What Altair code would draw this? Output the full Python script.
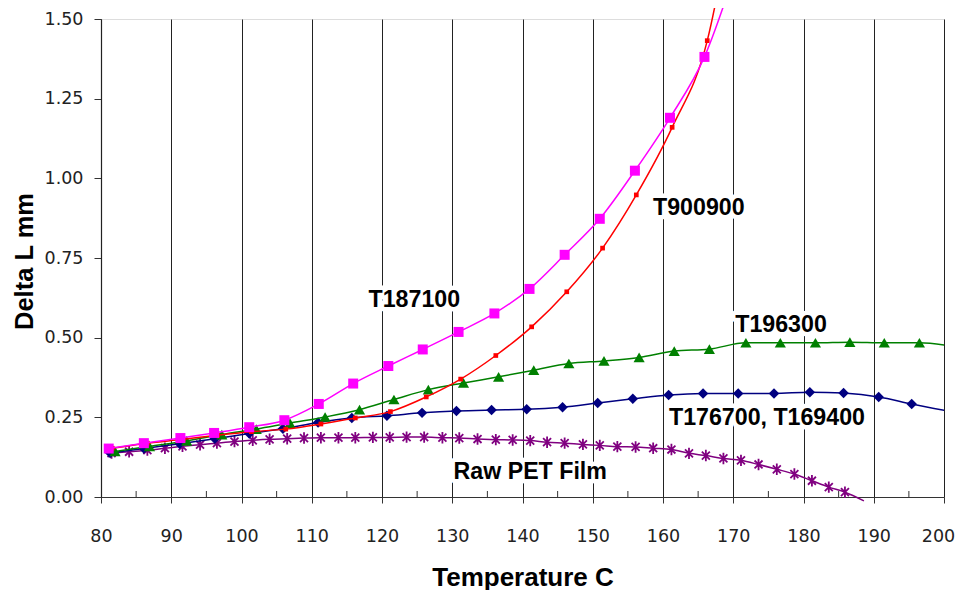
import altair as alt
import pandas as pd

# ---- data ----
mag_t = [81.1, 86.1, 91.3, 96.1, 101.1, 106.1, 111.0, 115.9, 120.9, 125.8, 130.9, 136.0, 141.0, 146.0, 151.0, 156.0, 161.0, 165.9, 171.0]
mag_y = [0.152, 0.169, 0.185, 0.201, 0.219, 0.241, 0.292, 0.356, 0.411, 0.463, 0.518, 0.576, 0.653, 0.760, 0.873, 1.024, 1.190, 1.381, 1.700]

red_t = [81.6, 86.6, 91.7, 96.6, 101.4, 106.3, 111.3, 116.2, 121.2, 126.3, 131.2, 136.2, 141.3, 146.3, 151.4, 156.2, 161.3, 166.3, 171.3]
red_y = [0.153, 0.169, 0.181, 0.194, 0.205, 0.213, 0.229, 0.248, 0.268, 0.314, 0.370, 0.444, 0.534, 0.644, 0.781, 0.948, 1.160, 1.432, 2.050]

grn_t = [82.0, 86.9, 92.2, 97.2, 102.1, 106.9, 111.9, 116.8, 121.7, 126.6, 131.6, 136.6, 141.6, 146.6, 151.6, 156.6, 161.6, 166.6, 171.8, 176.7, 181.7, 186.6, 191.5, 196.5, 201.5]
grn_y = [0.143, 0.159, 0.176, 0.196, 0.213, 0.232, 0.251, 0.274, 0.306, 0.337, 0.358, 0.377, 0.398, 0.419, 0.427, 0.438, 0.458, 0.464, 0.484, 0.484, 0.484, 0.486, 0.484, 0.484, 0.472]

blu_t = [81.3, 86.1, 91.2, 96.2, 101.1, 105.9, 110.9, 115.7, 120.7, 125.7, 130.6, 135.6, 140.6, 145.7, 150.7, 155.7, 160.8, 165.7, 170.7, 175.8, 180.9, 185.7, 190.7, 195.4, 201.0]
blu_y = [0.138, 0.152, 0.167, 0.183, 0.199, 0.214, 0.234, 0.248, 0.255, 0.264, 0.270, 0.273, 0.275, 0.282, 0.295, 0.308, 0.320, 0.325, 0.325, 0.325, 0.329, 0.326, 0.314, 0.292, 0.268]

pet_t = [81.5, 84.0, 86.6, 89.1, 91.6, 94.1, 96.5, 99.0, 101.6, 104.0, 106.5, 108.9, 111.3, 113.8, 116.2, 118.7, 121.1,
         123.5, 126.0, 128.6, 131.0, 133.6, 136.2, 138.6, 141.1, 143.5, 146.0, 148.6, 151.0, 153.5, 156.1, 158.6, 161.2,
         163.7, 166.1, 168.6, 171.1, 173.6, 176.2, 178.7, 181.2, 183.6, 185.9, 188.6]
pet_y = [0.138, 0.142, 0.147, 0.153, 0.159, 0.164, 0.169, 0.174, 0.178, 0.181, 0.183, 0.185, 0.186, 0.186, 0.186, 0.187, 0.187,
         0.188, 0.188, 0.186, 0.185, 0.182, 0.180, 0.179, 0.177, 0.172, 0.169, 0.165, 0.162, 0.158, 0.157, 0.153, 0.149,
         0.137, 0.130, 0.121, 0.115, 0.102, 0.087, 0.072, 0.051, 0.031, 0.015, -0.012]

x_ticks = [80, 90, 100, 110, 120, 130, 140, 150, 160, 170, 180, 190, 200]
x_minor = [85, 95, 105, 115, 125, 135, 145, 155, 165, 175, 185, 195]
y_ticks = [0.0, 0.25, 0.5, 0.75, 1.0, 1.25, 1.5]

lab_text = ["T187100", "T900900", "T196300", "T176700, T169400", "Raw PET Film"]
lab_t = [124.6, 165.1, 176.8, 174.8, 141.1]
lab_y = [0.618, 0.907, 0.539, 0.248, 0.080]

W, H = 843, 478

xs = alt.Scale(domain=[80, 200], nice=False, zero=False)
ys = alt.Scale(domain=[0, 1.5], nice=False)

X = alt.X("t:Q", scale=xs, axis=alt.Axis(
    values=x_ticks, grid=True, gridColor="#222", gridWidth=1, gridOpacity=1,
    tickSize=6, tickColor="#333", domainColor="#333", domainWidth=1.2,
    labelFont="DejaVu Sans", labelFontSize=17.5, labelColor="#222", labelPadding=24,
    labelFlush=False, labelOverlap=False, labelBound=False,
    labelOffset={"condition": {"test": "datum.value == 200", "value": -6}, "value": 0},
    title="Temperature C", titleFont="Liberation Sans", titleFontSize=26, titleFontWeight="bold",
    titleColor="#000", titleX=W / 2, titleY=80, titleBaseline="middle", titleAnchor="middle"))
Y = alt.Y("y:Q", scale=ys, axis=alt.Axis(
    values=y_ticks, format=".2f", grid=False,
    tickSize=7, tickColor="#333", domainColor="#222", domainWidth=1.2,
    labelFont="DejaVu Sans", labelFontSize=17.5, labelColor="#222", labelPadding=11,
    labelFlush=False, labelOverlap=False,
    title="Delta L mm", titleFont="Liberation Sans", titleFontSize=25.5, titleFontWeight="bold",
    titleColor="#000", titleAngle=270, titleX=-77, titleY=H / 2 + 3, titleBaseline="middle",
    titleAnchor="middle"))

asterisk = "M-0.7,-0.7L0.7,0.7M-0.7,0.7L0.7,-0.7M0,-1L0,1"

series = [
    # t, y, color, shape, size, filled, clip
    (mag_t, mag_y, "#FF00FF", "square", 100, True, False),
    (red_t, red_y, "#FF0000", "square", 22, True, False),
    (grn_t, grn_y, "#008000", "triangle-up", 125, True, True),
    (blu_t, blu_y, "#000080", "diamond", 110, True, True),
    (pet_t, pet_y, "#800080", asterisk, 130, False, False),
]

layers = []
minor_df = pd.DataFrame({"t": x_minor})
layers.append(alt.Chart(minor_df).mark_rule(color="#333", strokeWidth=1).encode(
    x=alt.X("t:Q", scale=xs), y=alt.value(H), y2=alt.value(H - 6)))

for t, yv, col, shape, size, filled, clip in reversed(series):
    df = pd.DataFrame({"t": t, "y": yv})
    layers.append(alt.Chart(df).mark_line(color=col, strokeWidth=1.5, interpolate="monotone", clip=clip).encode(x=X, y=Y))
    dpts = df[(df.y >= 0) & (df.y <= 1.5) & (df.t <= 200)]
    if filled:
        pm = alt.Chart(dpts).mark_point(shape=shape, size=size, filled=True, color=col, opacity=1)
    else:
        pm = alt.Chart(dpts).mark_point(shape=shape, size=size, filled=False, color=col, strokeWidth=1.8, opacity=1)
    layers.append(pm.encode(x=X, y=Y))

lab_df = pd.DataFrame({"label": lab_text, "t": lab_t, "y": lab_y})
halo = alt.Chart(lab_df).mark_text(font="Liberation Sans", fontSize=23.2, fontWeight="bold",
                                   color="white", stroke="white", strokeWidth=9, strokeJoin="round").encode(
    x=alt.X("t:Q", scale=xs), y=alt.Y("y:Q", scale=ys), text="label:N")
txt = alt.Chart(lab_df).mark_text(font="Liberation Sans", fontSize=23.2, fontWeight="bold", color="#000").encode(
    x=alt.X("t:Q", scale=xs), y=alt.Y("y:Q", scale=ys), text="label:N")
layers += [halo, txt]

chart = alt.layer(*layers).properties(
    width=W, height=H,
    autosize=alt.AutoSizeParams(type="none"),
    padding={"left": 93, "top": 11, "right": 12, "bottom": 93},
).configure_view(stroke="#888", strokeWidth=1.2).configure(background="white")

chart.save("out.html", embed_options={"renderer": "svg", "actions": False})
